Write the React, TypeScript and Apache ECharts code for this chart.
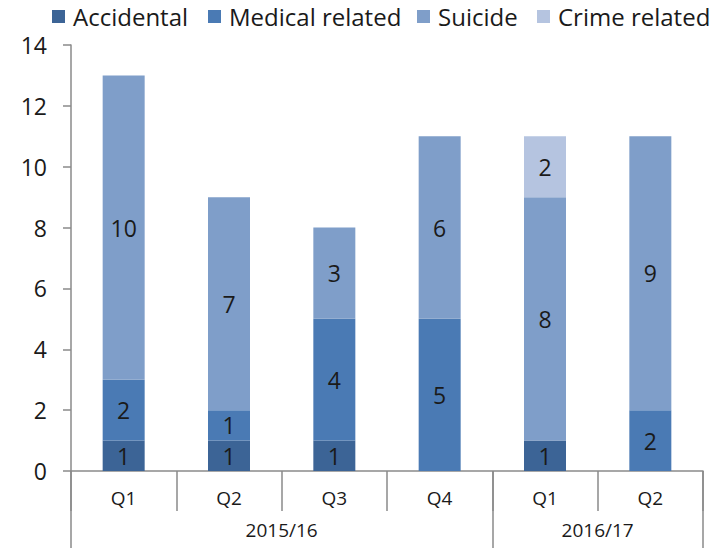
import React, { useEffect, useRef } from "react";
import * as echarts from "echarts";

const quarters = ["Q1", "Q2", "Q3", "Q4", "Q1", "Q2"];
const years = ["2015/16", "2016/17"];
const yearCenters = [2, 5];
const yearBounds = [0, 4, 6];
const accidental = [1, 1, 1, 0, 1, 0];
const medical = [2, 1, 4, 5, 0, 2];
const suicide = [10, 7, 3, 6, 8, 9];
const crime = [0, 0, 0, 0, 2, 0];
const seriesNames = ["Accidental", "Medical related", "Suicide", "Crime related"];
const colors = ["#3c6496", "#4a7ab4", "#7f9ec9", "#b5c4e0"];

const FONT = "'Open Sans', 'Noto Sans', sans-serif";

export default function App() {
  const ref = useRef<HTMLDivElement>(null);
  useEffect(() => {
    if (!ref.current) return;
    const chart = echarts.init(ref.current, null, { renderer: "svg" });
    const values = [accidental, medical, suicide, crime];
    const legendLefts = [52, 208, 417, 537];
    chart.setOption({
      animation: false,
      color: colors,
      legend: seriesNames.map((n, i) => ({
        data: [n],
        left: legendLefts[i],
        top: 4,
        icon: "rect",
        itemWidth: 13,
        itemHeight: 13,
        padding: 0,
        selectedMode: false,
        textStyle: { fontFamily: FONT, fontSize: 24, color: "#1a1a1a", lineHeight: 25, padding: [0, 0, 0, 3] },
      })),
      grid: { left: 71, right: 24, top: 45, bottom: 79 },
      xAxis: [
        {
          type: "category",
          data: quarters,
          position: "bottom",
          axisLine: { lineStyle: { color: "#8a8a8a", width: 1.5 } },
          axisTick: { show: true, length: 40, lineStyle: { color: "#8a8a8a", width: 1.5 } },
          axisLabel: { fontFamily: FONT, fontSize: 19, color: "#1a1a1a", margin: 17 },
        },
        {
          type: "value",
          min: 0,
          max: 6,
          position: "bottom",
          axisLine: { show: false },
          splitLine: { show: false },
          axisTick: {
            show: true,
            customValues: yearBounds,
            length: 77,
            lineStyle: { color: "#8a8a8a", width: 1.5 },
          },
          axisLabel: {
            customValues: yearCenters,
            formatter: (v: number) => years[yearCenters.indexOf(v)] ?? "",
            fontFamily: FONT,
            fontSize: 19,
            color: "#1a1a1a",
            margin: 49,
          },
        },
      ],
      yAxis: {
        type: "value",
        min: 0,
        max: 14,
        interval: 2,
        axisLine: { show: true, lineStyle: { color: "#8a8a8a", width: 1.5 } },
        axisTick: { show: true, length: 8, lineStyle: { color: "#8a8a8a", width: 1.5 } },
        splitLine: { show: false },
        axisLabel: { fontFamily: FONT, fontSize: 23, color: "#1a1a1a", margin: 24 },
      },
      series: seriesNames.map((n, i) => ({
        name: n,
        type: "bar",
        stack: "total",
        xAxisIndex: 0,
        barWidth: 42,
        data: values[i],
        itemStyle: { color: colors[i] },
        label: {
          show: true,
          position: "inside",
          fontFamily: FONT,
          fontSize: 23,
          color: "#1a1a1a",
          formatter: (p: any) => (p.value ? String(p.value) : ""),
        },
      })),
    });
    return () => chart.dispose();
  }, []);
  return <div ref={ref} style={{ width: 727, height: 550, position: "absolute", left: 0, top: 0 }} />;
}
